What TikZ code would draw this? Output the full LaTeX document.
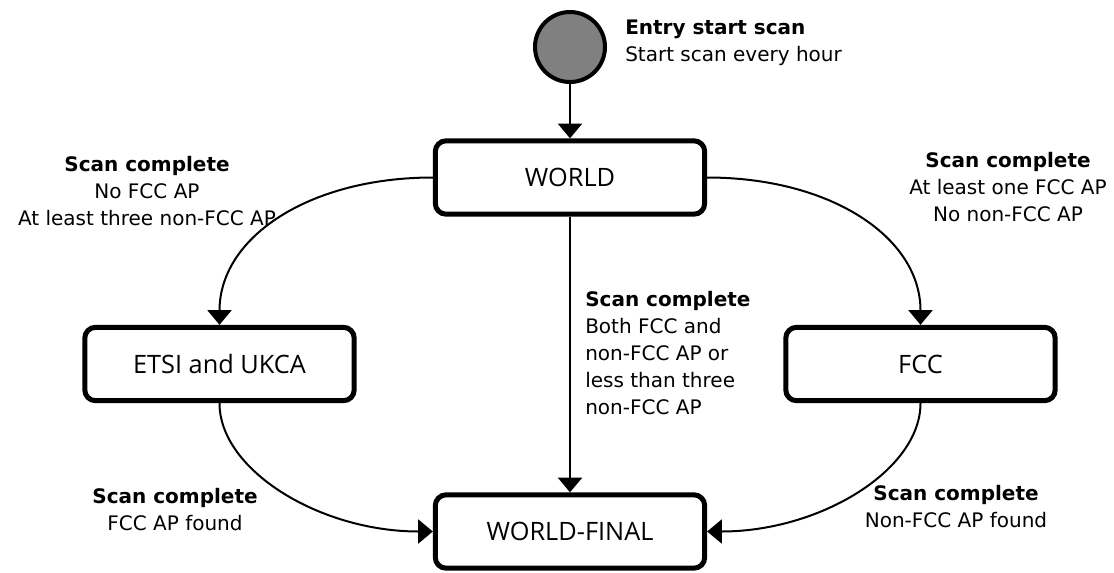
\documentclass[tikz,border=0pt]{standalone}
\usepackage{fontspec}
\setmainfont{DejaVu Sans}
\newfontfamily\boxfont{Open Sans}
\usetikzlibrary{arrows.meta}
\definecolor{dotgray}{RGB}{128,128,128}
\tikzset{
  state/.style={draw, line width=3.75pt, rounded corners=8pt, minimum width=202pt, minimum height=55pt, inner sep=0pt, font=\boxfont\fontsize{19}{23}\selectfont},
  entrydot/.style={circle, draw, line width=3pt, fill=dotgray, minimum size=52.5pt, inner sep=0pt},
  conn/.style={line width=1.5pt, -{Triangle[length=11pt,width=18pt]}},
  note/.style={align=center, inner sep=0pt, font=\fontsize{15}{20.2}\selectfont},
}
\begin{document}
\begin{tikzpicture}[x=0.75pt,y=0.75pt,yscale=-1,xscale=1]
\useasboundingbox (0,0) rectangle (1114,572);

%Shape: Circle [entry]
\node [entrydot] (entry) at (570,47) {};
%Shape: States
\node [state] (world) at (570,177.5) {WORLD};
\node [state] (etsi) at (219.5,364) {ETSI and UKCA};
\node [state] (fcc) at (920.5,364) {FCC};
\node [state] (final) at (570,531.5) {WORLD-FINAL};

%Straight Lines
\draw [conn] (entry) -- (world);
\draw [conn] (world) -- (final);
%Curves
\draw [conn] (world.west) .. controls +(-123,0) and +(0,-88) .. (etsi.north);
\draw [conn] (world.east) .. controls +(123,0) and +(0,-88) .. (fcc.north);
\draw [conn] (etsi.south) .. controls +(0,67) and +(-113,0) .. (final.west);
\draw [conn] (fcc.south) .. controls +(0,67) and +(113,0) .. (final.east);

% Text Node
\node [note, anchor=west, align=left] (entrytxt) at (625,43) {\textbf{Entry start scan}\\Start scan every hour};
% Text Node
\node [note] (toetsi) at (147,191) {\textbf{Scan complete}\\No FCC AP\\At least three non-FCC AP};
% Text Node
\node [note] (tofcc) at (1008,187) {\textbf{Scan complete}\\At least one FCC AP\\No non-FCC AP};
% Text Node
\node [note, anchor=west, align=left] (tofinal) at (585,353) {\textbf{Scan complete}\\Both FCC and\\non-FCC AP or\\less than three\\non-FCC AP};
% Text Node
\node [note] (etsidone) at (175,510) {\textbf{Scan complete}\\FCC AP found};
% Text Node
\node [note] (fccdone) at (956,507) {\textbf{Scan complete}\\Non-FCC AP found};

\end{tikzpicture}
\end{document}
